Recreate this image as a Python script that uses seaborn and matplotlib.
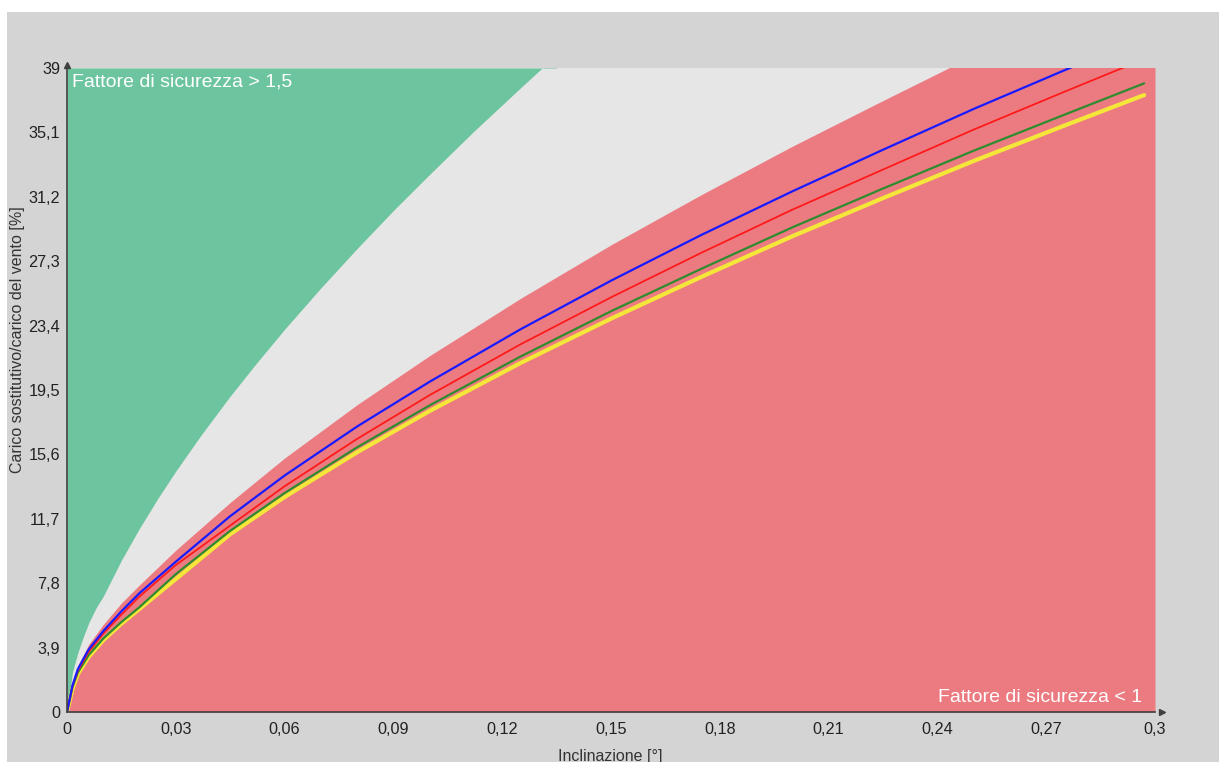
import numpy as np
import seaborn as sns
import matplotlib.pyplot as plt
from matplotlib.patches import Rectangle

# x positions (inclination) and values
x_lines = [0, 0.0015, 0.003, 0.006, 0.01, 0.015, 0.02, 0.03, 0.045, 0.06, 0.08,
           0.1, 0.125, 0.15, 0.175, 0.2, 0.225, 0.25, 0.275]
blue = [0, 1.6, 2.6, 3.8, 4.9, 6.1, 7.2, 9.1, 11.86, 14.32, 17.29,
        20.0, 23.17, 26.12, 28.9, 31.53, 34.05, 36.52, 38.86]
red = [0, 1.55, 2.5, 3.65, 4.75, 5.9, 7.0, 8.9, 11.29, 13.67, 16.54,
       19.19, 22.26, 25.11, 27.82, 30.42, 32.85, 35.27, 37.56]
green = [0, 1.5, 2.4, 3.45, 4.45, 5.45, 6.35, 8.35, 10.97, 13.26, 16.03,
         18.57, 21.52, 24.27, 26.85, 29.35, 31.7, 33.99, 36.17]
yellow = [0, 1.4, 2.3, 3.35, 4.35, 5.35, 6.25, 8.05, 10.77, 13.02, 15.73,
          18.23, 21.13, 23.82, 26.36, 28.81, 31.12, 33.37, 35.51]
# tail ends of the curves
x_blue_end, blue_end = 0.285, 39.78
x_red_end, red_end = 0.3, 39.81
x_green_end, green_end = 0.297, 38.07
x_yellow_end, yellow_end = 0.297, 37.36

# boundary of the "safety factor > 1.5" zone
x_safe = [0, 0.0015, 0.003, 0.0045, 0.006, 0.008, 0.01, 0.015, 0.02, 0.025, 0.03,
          0.037, 0.045, 0.052, 0.06, 0.07, 0.08, 0.09, 0.1, 0.112, 0.125, 0.135]
safe = [0, 2.4, 3.6, 4.55, 5.4, 6.3, 7.01, 9.19, 11.13, 12.92, 14.59,
        16.78, 19.13, 21.06, 23.18, 25.68, 28.07, 30.37, 32.56, 35.13, 37.79, 39.8]

# boundary of the "safety factor < 1" zone
x_unsafe = [0, 0.0015, 0.003, 0.006, 0.01, 0.015, 0.02, 0.03, 0.045, 0.06, 0.08,
            0.1, 0.125, 0.15, 0.175, 0.2, 0.225, 0.25, 0.275, 0.3]
unsafe = [0, 1.8, 2.8, 4.1, 5.3, 6.6, 7.7, 9.8, 12.69, 15.38, 18.61,
          21.58, 25.04, 28.29, 31.34, 34.26, 37.03, 39.75, 42.3, 44.9]

x_ticks = [0, 0.03, 0.06, 0.09, 0.12, 0.15, 0.18, 0.21, 0.24, 0.27, 0.3]
x_ticklabels = ['0', '0,03', '0,06', '0,09', '0,12', '0,15', '0,18', '0,21', '0,24', '0,27', '0,3']
y_ticks = [0, 3.9, 7.8, 11.7, 15.6, 19.5, 23.4, 27.3, 31.2, 35.1, 39]
y_ticklabels = ['0', '3,9', '7,8', '11,7', '15,6', '19,5', '23,4', '27,3', '31,2', '35,1', '39']

sns.set_style('white')
plt.rcParams['font.family'] = ['Liberation Sans', 'DejaVu Sans']

fig = plt.figure(figsize=(12.19, 7.62), dpi=100)
fig.patch.set_facecolor('#d4d4d4')
# white strips at the top and left edge of the screenshot
fig.patches.append(Rectangle((0, 1 - 12 / 762), 1, 12 / 762, transform=fig.transFigure,
                             facecolor='white', edgecolor='none', zorder=0))
fig.patches.append(Rectangle((0, 0), 7 / 1219, 1 - 12 / 762, transform=fig.transFigure,
                             facecolor='white', edgecolor='none', zorder=0))

ax = fig.add_axes([67 / 1219, 50 / 762, 1088 / 1219, 644 / 762])
ax.set_facecolor('#e6e6e6')

ax.fill_between(x_safe, safe, 39, color='#6cc59e', linewidth=0, zorder=1)
ax.fill_between(x_unsafe, 0, unsafe, color='#ec7b81', linewidth=0, zorder=1)

sns.lineplot(x=x_lines + [x_yellow_end], y=yellow + [yellow_end], color='#f5e63a',
             linewidth=3, ax=ax, zorder=3)
sns.lineplot(x=x_lines + [x_green_end], y=green + [green_end], color='#2e8b2e',
             linewidth=1.6, ax=ax, zorder=4)
sns.lineplot(x=x_lines + [x_red_end], y=red + [red_end], color='#ff1a1a',
             linewidth=1.3, ax=ax, zorder=4)
sns.lineplot(x=x_lines + [x_blue_end], y=blue + [blue_end], color='#1a1aff',
             linewidth=1.6, ax=ax, zorder=5)

ax.set_xlim(0, 0.3)
ax.set_ylim(0, 39)
ax.set_xticks(x_ticks)
ax.set_xticklabels(x_ticklabels)
ax.set_yticks(y_ticks)
ax.set_yticklabels(y_ticklabels)
ax.tick_params(axis='both', labelsize=11.7, colors='#222222', direction='inout',
               length=4, width=1)
ax.tick_params(axis='x', pad=5)
ax.tick_params(axis='y', pad=3)

for side in ['top', 'right']:
    ax.spines[side].set_visible(False)
for side in ['left', 'bottom']:
    ax.spines[side].set_color('#404040')
    ax.spines[side].set_linewidth(1.2)
    ax.spines[side].set_zorder(6)

# small arrow heads at the axis ends
ax.plot(1.006, 0, marker='>', markersize=4, color='#404040', transform=ax.transAxes,
        clip_on=False, zorder=7)
ax.plot(0, 1.004, marker='^', markersize=4, color='#404040', transform=ax.transAxes,
        clip_on=False, zorder=7)

ax.set_xlabel('Inclinazione [°]', fontsize=11.5, color='#333333')
ax.xaxis.set_label_coords(0.499, -0.058)
ax.set_ylabel('Carico sostitutivo/carico del vento [%]', fontsize=11.5, color='#333333')
ax.yaxis.set_label_coords(-0.039, 0.578)

ax.text(0.005, 0.979, 'Fattore di sicurezza > 1,5', transform=ax.transAxes,
        color='white', fontsize=14, ha='left', va='center', zorder=8)
ax.text(0.988, 0.023, 'Fattore di sicurezza < 1', transform=ax.transAxes,
        color='white', fontsize=14, ha='right', va='center', zorder=8)

fig.savefig('out.png', dpi=100, facecolor=fig.get_facecolor())
